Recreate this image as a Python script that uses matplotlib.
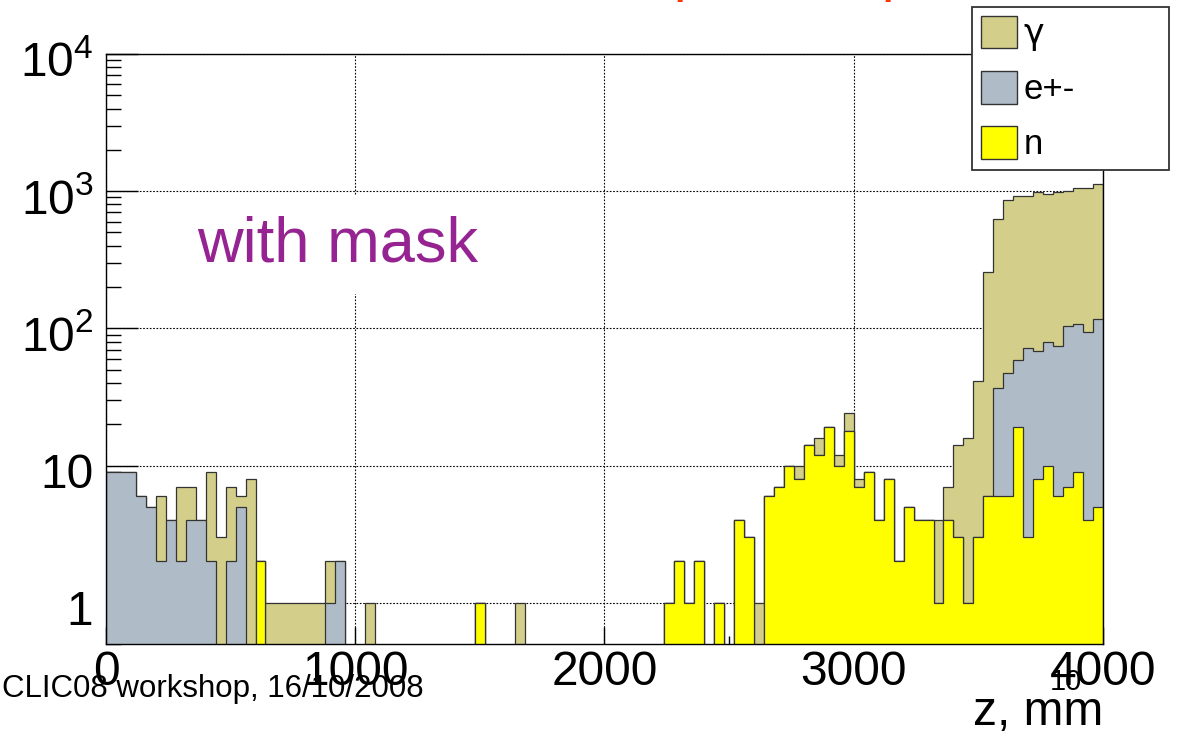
import numpy as np
import matplotlib
matplotlib.use("Agg")
import matplotlib.pyplot as plt
import matplotlib.transforms as mtransforms
from matplotlib.patches import Patch
from matplotlib.ticker import MultipleLocator, LogLocator, NullFormatter

# histogram: 100 bins of 40 mm along z (0..4000 mm)
bin_width = 40
n_bins = 100
edges = np.arange(n_bins + 1) * bin_width

# counts per bin
n_counts = [0, 0, 0, 0, 0, 0, 0, 0, 0, 0,
            0, 0, 0, 0, 0, 2, 0, 0, 0, 0,
            0, 0, 0, 0, 0, 0, 0, 0, 0, 0,
            0, 0, 0, 0, 0, 0, 0, 1, 0, 0,
            0, 0, 0, 0, 0, 0, 0, 0, 0, 0,
            0, 0, 0, 0, 0, 0, 1, 2, 1, 2,
            0, 1, 0, 4, 3, 0, 6, 7, 10, 8,
            14, 12, 19, 10, 18, 7, 9, 4, 8, 2,
            5, 4, 4, 1, 4, 3, 1, 3, 6, 6,
            6, 19, 3, 8, 10, 6, 7, 9, 4, 5]

e_counts = [9, 9, 9, 6, 5, 2, 4, 2, 4, 4,
            2, 0, 2, 5, 0, 0, 0, 0, 0, 0,
            0, 0, 1, 2, 0, 0, 0, 0, 0, 0,
            0, 0, 0, 0, 0, 0, 0, 0, 0, 0,
            0, 0, 0, 0, 0, 0, 0, 0, 0, 0,
            0, 0, 0, 0, 0, 0, 0, 0, 0, 0,
            0, 0, 0, 0, 0, 0, 0, 0, 0, 0,
            0, 0, 0, 0, 0, 0, 0, 0, 0, 0,
            0, 0, 0, 0, 0, 0, 0, 0, 0, 31,
            41, 40, 69, 60, 69, 68, 97, 99, 90, 113]

g_counts = [0, 0, 0, 0, 0, 4, 0, 5, 3, 0,
            7, 3, 5, 1, 8, 0, 1, 1, 1, 1,
            1, 1, 1, 0, 0, 0, 1, 0, 0, 0,
            0, 0, 0, 0, 0, 0, 0, 0, 0, 0,
            0, 1, 0, 0, 0, 0, 0, 0, 0, 0,
            0, 0, 0, 0, 0, 0, 0, 0, 0, 0,
            0, 0, 0, 0, 0, 1, 0, 0, 0, 2,
            0, 4, 0, 2, 6, 1, 0, 0, 0, 0,
            0, 0, 0, 3, 3, 11, 15, 38, 250, 592,
            812, 870, 846, 914, 882, 908, 894, 949, 963, 1018]

labels = ["\u03b3", "e+-", "n"]
colors = ["#d3cf8a", "#afbcc8", "#ffff00"]

x_ticks = [0, 1000, 2000, 3000, 4000]
x_ticklabels = ["0", "1000", "2000", "3000", "4000"]
y_ticks = [1, 10, 100, 1000, 10000]
y_ticklabels = ["1", "10", r"$\mathregular{10^2}$", r"$\mathregular{10^3}$", r"$\mathregular{10^4}$"]

plt.rcParams["font.family"] = ["Liberation Sans", "DejaVu Sans"]
plt.rcParams["mathtext.fontset"] = "custom"
plt.rcParams["mathtext.rm"] = "Liberation Sans"

fig = plt.figure(figsize=(11.84, 7.37), dpi=100)
ax = fig.add_axes([0.0895, 0.1262, 0.8421, 0.8005])

n = np.array(n_counts, dtype=float)
e = np.array(e_counts, dtype=float)
g = np.array(g_counts, dtype=float)
stacks = [n + e + g, n + e, n]

floor = 1e-3
for vals, col in zip(stacks, colors):
    ax.stairs(np.where(vals > 0, vals, floor), edges, baseline=floor, fill=True,
              facecolor=col, edgecolor="#333333", linewidth=0.9)

ax.set_xlim(0, 4000)
ax.set_yscale("log")
ax.set_ylim(0.5, 1e4)

ax.set_xticks(x_ticks, x_ticklabels)
ax.xaxis.set_minor_locator(MultipleLocator(500))
ax.set_yticks(y_ticks, y_ticklabels)
ax.yaxis.set_minor_locator(LogLocator(base=10, subs=np.arange(2, 10), numticks=50))
ax.yaxis.set_minor_formatter(NullFormatter())

ax.tick_params(axis="x", which="major", direction="in", length=12, width=1, labelsize=34.5, pad=4)
ax.tick_params(axis="x", which="minor", direction="in", length=6, width=1)
ax.tick_params(axis="y", which="major", direction="in", length=23, width=1, labelsize=34.5, pad=9)
ax.tick_params(axis="y", which="minor", direction="in", length=11, width=1)

# ROOT puts the y labels a little below their ticks
shift = mtransforms.ScaledTranslation(0, -0.05, fig.dpi_scale_trans)
for lab in ax.get_yticklabels():
    lab.set_transform(lab.get_transform() + shift)

ax.set_axisbelow(True)
ax.grid(which="major", linestyle=(0, (1.5, 1.5)), color="black", linewidth=0.8)
for s in ax.spines.values():
    s.set_linewidth(1.0)

handles = [Patch(facecolor=c, edgecolor="#333333", linewidth=1) for c in colors]
leg = ax.legend(handles, labels, loc="upper left",
                bbox_to_anchor=(0.8209, 0.768, 0.1664, 0.2225),
                bbox_transform=fig.transFigure, mode="expand",
                fontsize=25, handlelength=1.04, handleheight=1.07,
                labelspacing=0.58, handletextpad=0.2, borderpad=0.25,
                fancybox=False, framealpha=1, borderaxespad=0)
leg.get_frame().set_edgecolor("#333333")
leg.get_frame().set_linewidth(1.3)
leg.get_texts()[0].set_family("DejaVu Sans")

fig.text(197 / 1184, 1 - 261 / 737, "with mask", fontsize=45.5, color="#952391",
         va="baseline", ha="left",
         bbox=dict(facecolor="white", edgecolor="none", pad=14))

fig.text(1103 / 1184, 1 - 725 / 737, "z, mm", fontsize=34.5, ha="right", va="baseline")
fig.text(2 / 1184, 1 - 697 / 737, "CLIC08 workshop, 16/10/2008", fontsize=22.5,
         ha="left", va="baseline")
fig.text(1066 / 1184, 1 - 690 / 737, "10", fontsize=21, ha="center", va="baseline")

# cut-off red title at the top edge
fig.text(673 / 1184, 1 + 9.7 / 737, "p", fontsize=40, color="#ff3300", va="baseline")
fig.text(881 / 1184, 1 + 9.7 / 737, "p", fontsize=40, color="#ff3300", va="baseline")

fig.savefig("out.png", dpi=100)
